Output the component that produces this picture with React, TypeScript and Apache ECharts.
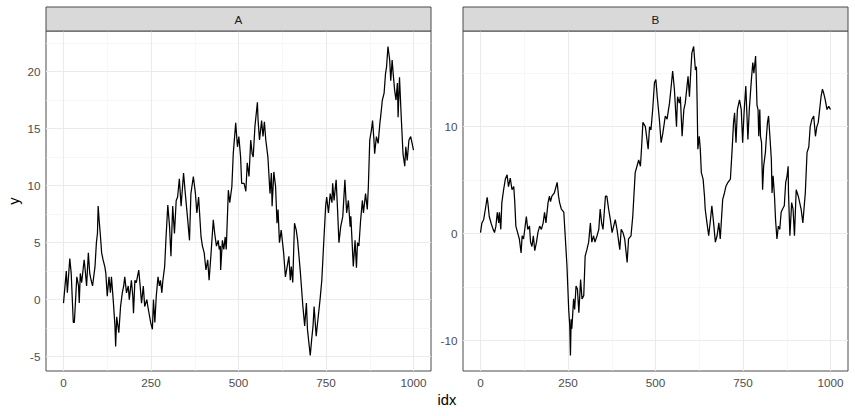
import React, { useEffect, useRef } from "react";
import * as echarts from "echarts";

const panels = ["A", "B"];

const idxA = [0, 8, 11, 18, 22, 28, 31, 38, 43, 45, 48, 52, 59, 62, 66, 71, 75, 79, 83, 90, 94, 97, 99, 102, 105, 109, 113, 118, 121, 125, 130, 134, 137, 142, 147, 149, 152, 158, 163, 168, 172, 175, 180, 185, 188, 194, 198, 200, 204, 208, 215, 219, 223, 228, 232, 238, 241, 249, 254, 257, 261, 265, 270, 274, 277, 281, 284, 289, 293, 298, 303, 307, 312, 317, 322, 326, 331, 336, 343, 348, 354, 360, 364, 371, 377, 381, 386, 393, 397, 402, 407, 412, 416, 421, 428, 432, 437, 442, 445, 448, 449, 454, 458, 462, 465, 471, 475, 481, 485, 492, 497, 501, 506, 509, 516, 521, 525, 530, 535, 539, 542, 547, 554, 556, 560, 566, 570, 574, 578, 584, 590, 594, 596, 601, 606, 610, 613, 617, 622, 629, 634, 639, 644, 648, 651, 655, 660, 665, 669, 677, 684, 689, 694, 697, 705, 709, 713, 716, 722, 726, 733, 738, 743, 749, 752, 757, 762, 767, 769, 773, 779, 783, 787, 792, 798, 804, 809, 814, 819, 821, 828, 833, 837, 840, 844, 849, 854, 857, 863, 868, 871, 875, 880, 883, 887, 889, 894, 899, 904, 906, 911, 916, 920, 923, 927, 932, 935, 939, 942, 946, 950, 954, 956, 960, 965, 970, 975, 978, 982, 987, 992, 1000];
const yA = [-0.3, 2.5, 0.6, 3.6, 2.3, -2.0, -2.0, 2.0, 1.2, -0.3, 2.3, 1.5, 3.5, 2.6, 1.2, 4.1, 2.3, 1.7, 1.2, 2.9, 5.0, 5.8, 8.2, 6.9, 5.8, 4.1, 3.5, 2.9, 2.3, 0.3, 2.0, 0.6, 2.0, 0.0, -2.3, -4.1, -1.5, -2.9, -0.6, 0.6, 1.2, 2.0, 0.6, 1.2, 0.0, 1.7, 0.3, -1.2, 1.7, 1.5, 2.6, 1.2, -0.3, 1.2, -0.6, 0.0, -0.6, -2.0, -2.6, 0.0, -2.0, 0.3, 2.0, 1.2, 1.7, 0.6, 1.7, 2.9, 5.5, 8.3, 6.4, 3.8, 8.2, 5.8, 8.7, 9.0, 10.6, 8.2, 11.1, 9.3, 7.3, 5.2, 9.3, 10.8, 9.3, 7.6, 9.0, 5.5, 4.7, 4.1, 2.6, 3.5, 1.7, 3.8, 7.0, 5.8, 4.7, 5.2, 4.4, 4.7, 2.6, 5.2, 4.4, 5.5, 4.4, 9.6, 8.5, 9.9, 12.8, 15.5, 13.4, 14.3, 12.5, 10.2, 10.2, 9.5, 12.0, 10.8, 14.0, 12.8, 12.5, 15.2, 17.3, 15.7, 14.0, 15.7, 14.3, 15.6, 14.0, 12.5, 9.3, 11.1, 8.2, 11.2, 9.9, 6.7, 7.9, 5.0, 6.1, 4.1, 2.0, 2.9, 3.8, 1.7, 2.9, 1.5, 6.7, 6.1, 5.2, 2.3, -0.6, -2.3, -0.3, -2.6, -4.9, -3.5, -2.3, -0.6, -3.2, -2.0, 0.0, 1.7, 4.7, 8.2, 9.0, 7.6, 9.3, 8.5, 10.2, 8.7, 10.5, 7.9, 5.0, 6.4, 7.3, 10.5, 7.6, 8.7, 6.4, 7.3, 2.9, 5.2, 2.8, 5.0, 4.7, 7.0, 8.7, 7.6, 9.3, 7.9, 9.9, 14.0, 14.9, 15.7, 14.0, 12.8, 14.3, 13.7, 15.5, 16.0, 17.5, 18.1, 19.8, 20.4, 22.2, 21.0, 19.2, 21.0, 19.8, 18.4, 17.5, 19.0, 16.0, 19.5, 16.0, 12.8, 11.7, 13.4, 12.2, 14.0, 14.3, 13.1];

const idxB = [0, 4, 9, 14, 19, 21, 25, 31, 36, 40, 44, 48, 52, 54, 58, 61, 66, 71, 76, 80, 85, 90, 95, 98, 101, 106, 111, 116, 119, 123, 131, 135, 140, 143, 147, 151, 155, 160, 164, 169, 174, 179, 183, 187, 193, 197, 200, 204, 211, 219, 223, 226, 231, 238, 242, 247, 252, 255, 257, 259, 261, 266, 269, 273, 277, 281, 286, 290, 295, 299, 304, 309, 314, 318, 323, 327, 333, 338, 342, 346, 350, 357, 361, 366, 371, 376, 385, 390, 398, 402, 407, 412, 419, 423, 430, 435, 442, 447, 452, 457, 461, 464, 471, 479, 483, 487, 492, 497, 501, 505, 511, 516, 521, 528, 533, 540, 544, 549, 554, 560, 563, 568, 571, 576, 581, 585, 593, 597, 601, 604, 609, 614, 617, 619, 621, 625, 628, 631, 636, 640, 642, 647, 652, 657, 661, 666, 671, 676, 681, 685, 692, 697, 701, 707, 714, 719, 723, 726, 730, 734, 740, 745, 749, 753, 758, 764, 768, 774, 778, 781, 786, 790, 793, 795, 798, 800, 803, 806, 809, 814, 817, 820, 823, 828, 831, 833, 836, 840, 843, 847, 851, 855, 859, 863, 868, 872, 876, 879, 880, 884, 889, 893, 897, 902, 908, 912, 916, 921, 928, 933, 938, 942, 947, 952, 957, 961, 965, 969, 973, 977, 980, 985, 990, 995, 1000];
const yB = [0.1, 1.0, 1.3, 2.3, 3.4, 2.9, 1.6, 0.9, 0.4, 0.1, 0.7, 2.0, 1.0, 2.0, 0.4, 2.9, 4.1, 5.1, 5.5, 4.4, 5.2, 4.1, 4.4, 2.9, 0.7, 0.1, -0.5, -1.8, -0.2, -0.5, 1.6, 0.4, 0.7, -0.8, -1.2, -0.2, -1.6, -0.8, 0.1, 0.7, 0.4, 1.0, 2.0, 1.0, 2.9, 3.5, 3.0, 3.5, 3.8, 4.8, 3.5, 2.9, 2.3, 2.0, -0.2, -3.0, -7.1, -8.6, -11.4, -8.0, -8.9, -6.1, -7.1, -4.9, -5.2, -7.4, -4.3, -6.1, -5.8, -2.1, -1.5, -0.8, 1.0, -0.8, -0.2, -0.8, -0.2, 0.4, 2.3, 1.0, 0.4, 3.5, 3.5, 2.3, 1.3, 0.1, 1.3, 0.4, -1.5, 0.4, 0.1, -0.5, -2.7, -0.5, -0.2, 1.6, 5.7, 6.3, 6.9, 6.3, 8.5, 10.4, 10.0, 7.9, 10.0, 9.7, 11.6, 14.1, 14.4, 12.8, 10.7, 8.5, 9.4, 11.0, 10.7, 12.2, 13.5, 15.2, 13.5, 10.0, 12.8, 12.2, 12.8, 9.1, 11.6, 12.2, 14.7, 12.8, 15.3, 16.9, 17.5, 15.3, 15.6, 12.2, 7.9, 9.1, 7.9, 5.7, 5.1, 3.5, 2.3, 1.0, -0.2, 1.3, 2.6, 1.0, -0.8, -0.2, 1.0, -0.5, 3.2, 3.8, 4.4, 4.8, 5.1, 7.9, 10.4, 11.3, 8.5, 11.6, 12.5, 11.6, 8.5, 11.3, 13.8, 8.8, 11.6, 14.4, 16.0, 15.0, 16.6, 12.0, 11.6, 9.1, 11.6, 9.1, 8.5, 4.1, 6.3, 7.6, 9.1, 10.4, 11.0, 8.5, 6.9, 3.8, 5.4, 3.5, 1.3, -0.5, 0.7, 0.4, 2.0, 2.3, 2.6, 4.8, 5.4, 6.3, 3.8, -0.2, 2.9, 2.3, -0.2, 4.1, 3.5, 2.9, 2.3, 1.0, 3.8, 7.6, 8.1, 10.0, 10.7, 11.0, 9.1, 10.0, 10.4, 11.6, 12.8, 13.5, 13.2, 12.5, 11.6, 11.9, 11.6];

const xTicks = [0, 250, 500, 750, 1000];
const xMinor = [125, 375, 625, 875];
const yTicksA = [-5, 0, 5, 10, 15, 20];
const yMinorA = [-2.5, 2.5, 7.5, 12.5, 17.5, 22.5];
const yTicksB = [-10, 0, 10];
const yMinorB = [-5, 5, 15];

const FONT = '"Liberation Sans", Arial, Helvetica, sans-serif';

function expand(vals: number[]) {
  const mn = Math.min(...vals);
  const mx = Math.max(...vals);
  const pad = (mx - mn) * 0.05;
  return [mn - pad, mx + pad];
}

export default function App() {
  const ref = useRef<HTMLDivElement>(null);
  useEffect(() => {
    document.body.style.margin = "0";
    if (!ref.current) return;
    const chart = echarts.init(ref.current, null, { renderer: "svg" });

    const W = 385;
    const H = 340;
    const TOP = 31;
    const lefts = [46, 463];
    const xs = [idxA, idxB];
    const ys = [yA, yB];
    const yTicks = [yTicksA, yTicksB];
    const yMinor = [yMinorA, yMinorB];
    const xr = expand([...idxA, ...idxB]);
    const fmt = (v: number) => String(v);

    const gridLines = (i: number) => {
      const major = { color: "#EBEBEB", width: 1.1, type: "solid" };
      const minor = { color: "#F2F2F2", width: 0.6, type: "solid" };
      return [
        ...yMinor[i].map((v) => ({ yAxis: v, lineStyle: minor })),
        ...xMinor.map((v) => ({ xAxis: v, lineStyle: minor })),
        ...yTicks[i].map((v) => ({ yAxis: v, lineStyle: major })),
        ...xTicks.map((v) => ({ xAxis: v, lineStyle: major })),
      ];
    };

    const option: any = {
      animation: false,
      backgroundColor: "#ffffff",
      grid: lefts.map((l) => ({
        left: l,
        top: TOP,
        width: W,
        height: H,
        show: true,
        backgroundColor: "#ffffff",
        borderColor: "#4a4a4a",
        borderWidth: 1,
        containLabel: false,
        outerBoundsMode: "none",
      })),
      xAxis: panels.map((_, i) => ({
        type: "value",
        gridIndex: i,
        min: xr[0],
        max: xr[1],
        axisLine: { show: false },
        splitLine: { show: false },
        axisTick: {
          show: true,
          customValues: xTicks,
          length: 3.7,
          lineStyle: { color: "#333333", width: 1 },
        },
        axisLabel: {
          customValues: xTicks,
          formatter: fmt,
          color: "#4D4D4D",
          fontSize: 11.7,
          fontFamily: FONT,
          margin: 5,
        },
      })),
      yAxis: panels.map((_, i) => {
        const r = expand(ys[i]);
        return {
          type: "value",
          gridIndex: i,
          min: r[0],
          max: r[1],
          axisLine: { show: false },
          splitLine: { show: false },
          axisTick: {
            show: true,
            customValues: yTicks[i],
            length: 3.7,
            lineStyle: { color: "#333333", width: 1 },
          },
          axisLabel: {
            customValues: yTicks[i],
            formatter: fmt,
            color: "#4D4D4D",
            fontSize: 11.7,
            fontFamily: FONT,
            margin: 5.5,
          },
        };
      }),
      series: panels.flatMap((_, i) => [
        {
          type: "line",
          xAxisIndex: i,
          yAxisIndex: i,
          data: [],
          z: 1,
          silent: true,
          markLine: {
            silent: true,
            z: 1,
            symbol: ["none", "none"],
            label: { show: false },
            emphasis: { disabled: true },
            lineStyle: { type: "solid" },
            data: gridLines(i),
          },
        },
        {
          type: "line",
          xAxisIndex: i,
          yAxisIndex: i,
          z: 10,
          showSymbol: false,
          symbol: "none",
          silent: true,
          lineStyle: { color: "#000000", width: 1.25 },
          data: xs[i].map((x, k) => [x, ys[i][k]]),
        },
      ]),
      graphic: [
        ...panels.flatMap((p, i) => [
          {
            type: "rect",
            shape: { x: lefts[i], y: 7, width: W, height: TOP - 7 },
            style: { fill: "#D9D9D9", stroke: "#4a4a4a", lineWidth: 1 },
            z: 5,
          },
          {
            type: "text",
            x: lefts[i] + W / 2,
            y: 19.5,
            style: {
              text: p,
              fill: "#1A1A1A",
              fontSize: 11.7,
              fontFamily: FONT,
              align: "center",
              verticalAlign: "middle",
            },
            z: 6,
          },
        ]),
        {
          type: "text",
          x: 14,
          y: TOP + H / 2,
          rotation: Math.PI / 2,
          style: {
            text: "y",
            fill: "#000000",
            fontSize: 14.7,
            fontFamily: FONT,
            align: "center",
            verticalAlign: "middle",
          },
        },
        {
          type: "text",
          x: (lefts[0] + lefts[1] + W) / 2,
          y: 400,
          style: {
            text: "idx",
            fill: "#000000",
            fontSize: 14.7,
            fontFamily: FONT,
            align: "center",
            verticalAlign: "middle",
          },
        },
      ],
    };

    chart.setOption(option);
    return () => chart.dispose();
  }, []);

  return <div ref={ref} style={{ width: 855, height: 416 }} />;
}
